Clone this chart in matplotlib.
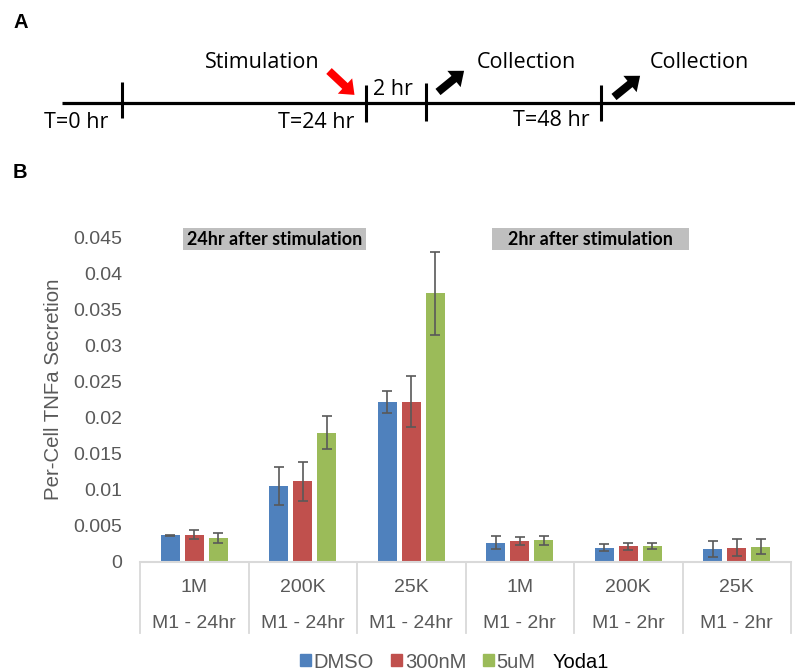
import numpy as np
import matplotlib.pyplot as plt
from matplotlib.patches import Patch, FancyArrow, Rectangle
import matplotlib.transforms as mtransforms

# ---------------- DATA ----------------
cells = ["1M", "200K", "25K", "1M", "200K", "25K"]
groups = ["M1 - 24hr"] * 3 + ["M1 - 2hr"] * 3
series = ["DMSO", "300nM", "5uM"]

dmso = [0.0037, 0.0105, 0.0222, 0.0027, 0.0020, 0.00185]
nm300 = [0.0038, 0.0112, 0.0222, 0.0029, 0.0022, 0.0020]
um5 = [0.0033, 0.0179, 0.0372, 0.0030, 0.0022, 0.0021]

dmso_err = [0.0001, 0.0026, 0.0015, 0.00085, 0.00045, 0.0011]
nm300_err = [0.00065, 0.0027, 0.0035, 0.0005, 0.0005, 0.00115]
um5_err = [0.0007, 0.0023, 0.0057, 0.00065, 0.00037, 0.00105]

colors = ["#4F81BD", "#C0504D", "#9BBB59"]
gray = "#595959"
axis_gray = "#D9D9D9"

plt.rcParams["font.family"] = ["Liberation Sans", "DejaVu Sans"]

W, H = 795, 672
fig = plt.figure(figsize=(W / 100, H / 100), dpi=100)

# ---------------- PANEL A: TIMELINE ----------------
ax_t = fig.add_axes([0, 1 - 140 / H, 1, 140 / H])
ax_t.set_xlim(0, W)
ax_t.set_ylim(140, 0)
ax_t.axis("off")

tl_font = dict(family=["Open Sans", "DejaVu Sans"], fontsize=15.5, color="black",
               ha="center", va="baseline")

ax_t.plot([62, 795], [103, 103], color="black", lw=2.3, solid_capstyle="butt")
for tx, y0, y1 in [(121.5, 82, 118), (365.5, 85, 122), (425.5, 83, 121), (600.5, 85, 121)]:
    ax_t.plot([tx, tx], [y0, y1], color="black", lw=2.2, solid_capstyle="butt")

ax_t.text(76, 128, "T=0 hr", **tl_font)
ax_t.text(316, 128, "T=24 hr", **tl_font)
ax_t.text(393, 95, "2 hr", **tl_font)
ax_t.text(551, 126, "T=48 hr", **tl_font)
ax_t.text(262, 68, "Stimulation", **tl_font)
ax_t.text(526, 68, "Collection", **tl_font)
ax_t.text(699, 68, "Collection", **tl_font)

ax_t.add_patch(FancyArrow(329, 71, 16, 15, width=8, head_width=21, head_length=13,
                          color="#FF0000", lw=0))
ax_t.add_patch(FancyArrow(438, 92, 16, -13, width=8, head_width=21, head_length=13,
                          color="black", lw=0))
ax_t.add_patch(FancyArrow(614, 97, 16, -13, width=8, head_width=21, head_length=13,
                          color="black", lw=0))

fig.text(21 / W, 1 - 22 / H, "A", fontsize=14.5, fontweight="bold", ha="center", va="center")
fig.text(20 / W, 1 - 173 / H, "B", fontsize=14.5, fontweight="bold", ha="center", va="center")

# ---------------- PANEL B: BAR CHART ----------------
left, right, top, bottom = 140, 791, 237, 562
ax = fig.add_axes([left / W, 1 - bottom / H, (right - left) / W, (bottom - top) / H])

x = np.arange(len(cells))
bw = 0.175
step = 0.222
err_kw = dict(ecolor=gray, elinewidth=1.2, capsize=3.3, capthick=1.2)
for i, (vals, errs) in enumerate([(dmso, dmso_err), (nm300, nm300_err), (um5, um5_err)]):
    ax.bar(x + (i - 1) * step, vals, bw, yerr=errs, color=colors[i],
           error_kw=err_kw, label=series[i], zorder=2)

ax.set_xlim(-0.5, len(cells) - 0.5)
ax.set_ylim(0, 0.045)
ax.set_yticks(np.arange(0, 0.0451, 0.005))
ax.set_yticklabels(["0", "0.005", "0.01", "0.015", "0.02", "0.025", "0.03",
                    "0.035", "0.04", "0.045"])
ax.tick_params(axis="y", length=0, pad=13, labelsize=14, labelcolor=gray)
ax.set_xticks([])
for s in ax.spines.values():
    s.set_visible(False)

fig.text(54 / W, 1 - 389 / H, "Per-Cell TNFa Secretion", rotation=90, fontsize=14.7,
         color=gray, ha="center", va="center")

# multi-level category axis
ph = bottom - top
trans = mtransforms.blended_transform_factory(ax.transData, ax.transAxes)
ax.plot([-0.5, len(cells) - 0.5], [0, 0], color=axis_gray, lw=1.5,
        transform=trans, clip_on=False)
for b in np.arange(-0.5, len(cells), 1.0):
    ax.plot([b, b], [0, -(633 - bottom) / ph], color=axis_gray, lw=1.3,
            transform=trans, clip_on=False)
for xi, (c, g) in enumerate(zip(cells, groups)):
    ax.text(xi, -(592 - bottom) / ph, c, transform=trans, ha="center",
            va="baseline", fontsize=14, color=gray)
    ax.text(xi, -(628 - bottom) / ph, g, transform=trans, ha="center",
            va="baseline", fontsize=14, color=gray)

# header boxes
box_font = dict(family=["Lato", "DejaVu Sans"], fontsize=13, fontweight="bold",
                color="black", ha="center", va="center")
for x0, x1, label in [(183, 366, "24hr after stimulation"), (492, 689, "2hr after stimulation")]:
    fig.patches.append(Rectangle((x0 / W, 1 - 250 / H), (x1 - x0) / W, 22 / H,
                                 transform=fig.transFigure, fc="#BFBFBF", ec="none"))
    fig.text((x0 + x1) / 2 / W, 1 - 239.5 / H, label, **box_font)

# legend
handles = [Patch(color=c) for c in colors]
leg = fig.legend(handles, series, loc="center", bbox_to_anchor=(418 / W, 1 - 662 / H),
                 ncol=3, frameon=False, fontsize=14.5, handlelength=0.55,
                 handleheight=0.55, handletextpad=0.12, columnspacing=0.85,
                 borderpad=0)
for t in leg.get_texts():
    t.set_color(gray)
fig.text(580.5 / W, 1 - 668 / H, "Yoda1", fontsize=14.5, color="black",
         ha="center", va="baseline")

fig.savefig("out.png", dpi=100)
